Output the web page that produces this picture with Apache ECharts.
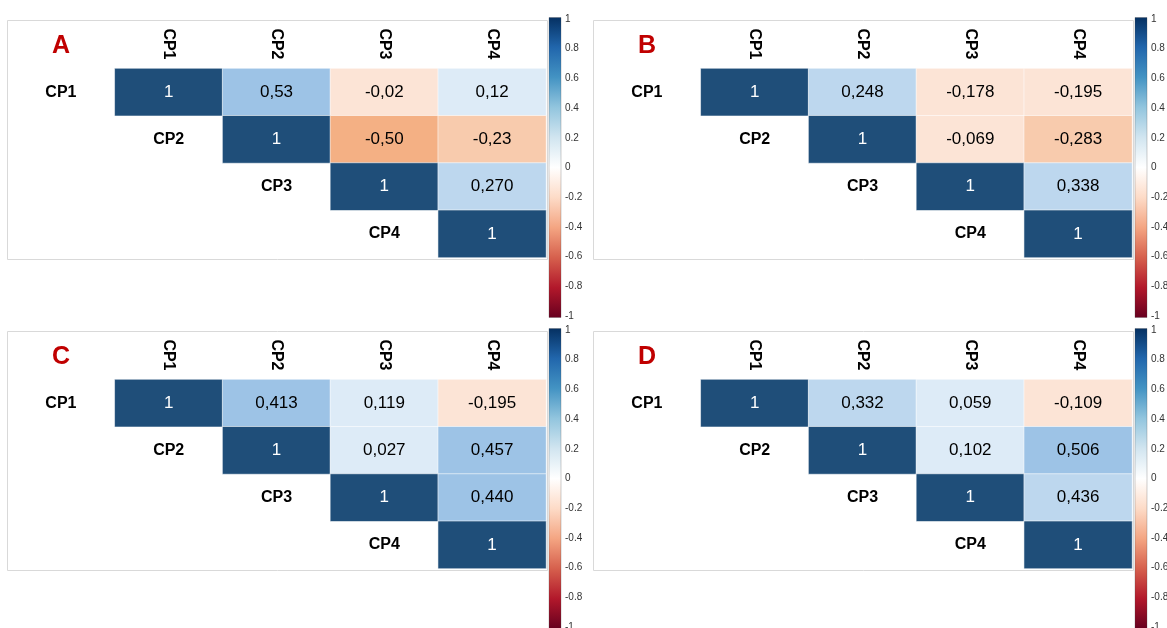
<!DOCTYPE html>
<html>
<head>
<meta charset="utf-8">
<script src="https://cdn.jsdelivr.net/npm/echarts@6/dist/echarts.min.js"></script>
<style>
  html, body { margin: 0; padding: 0; background: #fff; }
  #chart { width: 1167px; height: 628px; }
</style>
</head>
<body>
<div id="chart"></div>
<script>
// Principal components compared in every table
const variables = ['CP1', 'CP2', 'CP3', 'CP4'];

// Upper-triangle correlations, row by row, as printed in each table
const corrA = [['1', '0.53', '-0.02', '0.12'], ['1', '-0.50', '-0.23'], ['1', '0.270'], ['1']];
const corrB = [['1', '0.248', '-0.178', '-0.195'], ['1', '-0.069', '-0.283'], ['1', '0.338'], ['1']];
const corrC = [['1', '0.413', '0.119', '-0.195'], ['1', '0.027', '0.457'], ['1', '0.440'], ['1']];
const corrD = [['1', '0.332', '0.059', '-0.109'], ['1', '0.102', '0.506'], ['1', '0.436'], ['1']];

// Colour bar scale
const colorbarRange = [-1, 1];
const colorbarStep = 0.2;

const FONT = '"Liberation Sans", Arial, Helvetica, sans-serif';
const RDBU = ['#053061', '#2166AC', '#4393C3', '#92C5DE', '#D1E5F0', '#FFFFFF',
              '#FDDBC7', '#F4A582', '#D6604D', '#B2182B', '#67001F'];

const panels = [
  { name: 'A', corr: corrA, dx: 0,   dy: 0,   strong: 0.4 },
  { name: 'B', corr: corrB, dx: 586, dy: 0,   strong: 0.4 },
  { name: 'C', corr: corrC, dx: 0,   dy: 311, strong: 0.4 },
  { name: 'D', corr: corrD, dx: 586, dy: 311, strong: 0.45 }
];

// Cell shading bands
function shadePieces(strong) {
  return [
    { gte: 0.999, color: '#1F4E79' },
    { gte: strong, lt: 0.999, color: '#9DC3E6' },
    { gte: 0.2, lt: strong, color: '#BDD7EE' },
    { gte: 0, lt: 0.2, color: '#DDEBF7' },
    { gte: -0.2, lt: 0, color: '#FCE4D6' },
    { gte: -0.4, lt: -0.2, color: '#F8CBAD' },
    { lt: -0.4, color: '#F4B084' }
  ];
}

const grid = [], xAxis = [], yAxis = [], series = [], visualMap = [], graphic = [];

panels.forEach((p, i) => {
  const gHeat = i * 2, gBar = i * 2 + 1;

  grid.push({ left: 7 + p.dx, top: 68.5 + p.dy, width: 539, height: 189, outerBoundsMode: 'none' });
  grid.push({ left: 549 + p.dx, top: 19 + p.dy, width: 12, height: 297, outerBoundsMode: 'none' });

  xAxis.push({
    type: 'category', gridIndex: gHeat, position: 'top', data: [''].concat(variables),
    axisLine: { show: false }, axisTick: { show: false }, splitLine: { show: false },
    axisLabel: { rotate: 90, margin: 9, interval: 0, fontSize: 16, fontWeight: 'bold', color: '#000', fontFamily: FONT }
  });
  yAxis.push({ type: 'category', gridIndex: gHeat, data: variables, inverse: true, show: false });

  xAxis.push({ type: 'value', gridIndex: gBar, min: 0, max: 1, show: false });
  yAxis.push({
    type: 'value', gridIndex: gBar, position: 'right',
    min: colorbarRange[0], max: colorbarRange[1], interval: colorbarStep,
    axisLine: { show: false }, splitLine: { show: false },
    axisTick: { show: true, length: 3, lineStyle: { color: '#777' } },
    axisLabel: { margin: 4, fontSize: 10, color: '#333', fontFamily: FONT }
  });

  // correlation cells
  const cells = [];
  p.corr.forEach((row, r) => {
    row.forEach((s, k) => {
      const v = parseFloat(s);
      cells.push({
        value: [r + k + 1, r, v],
        text: s.replace('.', ','),
        label: { color: v >= 0.999 ? '#ffffff' : '#000000' }
      });
    });
  });
  series.push({
    type: 'heatmap', xAxisIndex: gHeat, yAxisIndex: gHeat, data: cells,
    itemStyle: { borderColor: 'rgba(255,255,255,0.55)', borderWidth: 1 },
    label: { show: true, fontSize: 17, fontFamily: FONT, formatter: prm => prm.data.text },
    emphasis: { disabled: true }, silent: true
  });

  // row names sitting just left of the diagonal
  series.push({
    type: 'scatter', xAxisIndex: gHeat, yAxisIndex: gHeat,
    data: variables.map((v, r) => ({ name: v, value: [r, r] })),
    symbol: 'rect', symbolSize: 0, silent: true,
    itemStyle: { opacity: 1, color: '#ffffff' },
    emphasis: { disabled: true },
    label: { show: true, position: 'inside', formatter: prm => prm.name,
             fontSize: 16, fontWeight: 'bold', color: '#000000', textBorderWidth: 0,
             fontFamily: FONT }
  });

  // colour bar
  series.push({
    type: 'custom', xAxisIndex: gBar, yAxisIndex: gBar, silent: true,
    data: [colorbarRange],
    encode: { x: [], y: [0, 1] },
    renderItem: (params, api) => {
      const lo = api.value(0), hi = api.value(1);
      const tl = api.coord([0, hi]);
      const br = api.coord([1, lo]);
      return {
        type: 'rect',
        shape: { x: tl[0], y: tl[1] - 1.5, width: br[0] - tl[0], height: br[1] - tl[1] + 3 },
        style: {
          fill: new echarts.graphic.LinearGradient(0, 0, 0, 1,
            RDBU.map((c, k) => ({ offset: k / (RDBU.length - 1), color: c }))),
          stroke: 'rgba(70,70,70,0.45)', lineWidth: 0.6
        }
      };
    }
  });

  visualMap.push({ type: 'piecewise', show: false, seriesIndex: i * 3, dimension: 2, pieces: shadePieces(p.strong) });

  graphic.push({
    type: 'rect', silent: true, z: -10,
    shape: { x: 7.5 + p.dx, y: 20.5 + p.dy, width: 540, height: 239 },
    style: { fill: 'none', stroke: '#d9d9d9', lineWidth: 1 }
  });
  graphic.push({
    type: 'text', silent: true, x: 61 + p.dx, y: 46 + p.dy,
    style: { text: p.name, fontSize: 25, fontWeight: 'bold', fontFamily: FONT, fill: '#C00000',
             align: 'center', verticalAlign: 'middle' }
  });
});

const chart = echarts.init(document.getElementById('chart'), null, { renderer: 'canvas' });
chart.setOption({
  animation: false,
  backgroundColor: '#ffffff',
  grid, xAxis, yAxis, series, visualMap, graphic
});
</script>
</body>
</html>
